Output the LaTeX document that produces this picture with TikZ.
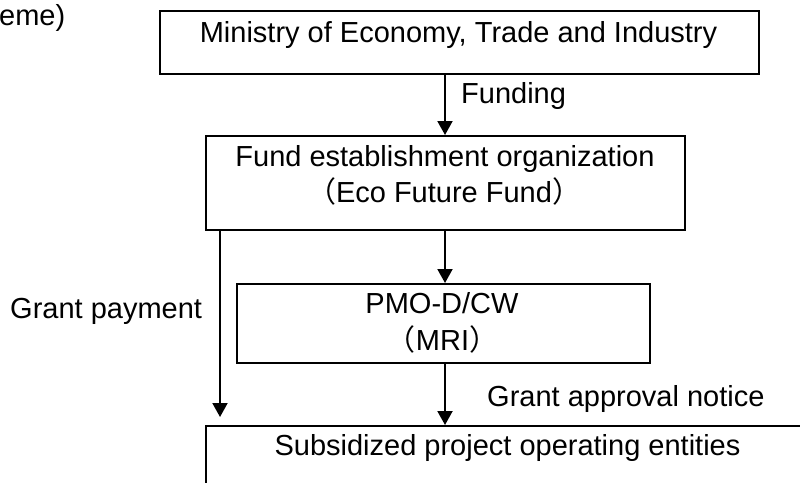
\documentclass[tikz,border=0pt]{standalone}
\usepackage{fontspec}
\setmainfont{Liberation Sans}
\newfontfamily\cjk{Noto Sans CJK JP}
\usetikzlibrary{arrows.meta}
\begin{document}
\begin{tikzpicture}[x=1pt,y=-1pt,
  box/.style={draw,line width=1.5pt,inner sep=0pt,anchor=north west},
  txt/.style={inner sep=0pt,anchor=base,font=\fontsize{29}{35}\selectfont},
  ltxt/.style={txt,anchor=base west},
  arr/.style={line width=2pt,-{Triangle[length=14pt,width=15pt]}}]
\useasboundingbox (0,0) rectangle (800,482);
\clip (0,0) rectangle (800,482);
% boxes
\node[box,minimum width=599pt,minimum height=63pt] (min) at (159,10) {};
\node[box,minimum width=479pt,minimum height=94pt] (fund) at (205,135) {};
\node[box,minimum width=413pt,minimum height=79pt] (pmo) at (236,283) {};
\node[box,minimum width=640pt,minimum height=100pt] (sub) at (205,425) {};
% texts
\node[txt] (tmin) at (458.5,42) {Ministry of Economy, Trade and Industry};
\node[txt] (tfund1) at (445,166) {Fund establishment organization};
\node[txt] (tfund2) at (444,202) {{\cjk （}Eco Future Fund{\cjk ）}};
\node[txt] (tpmo1) at (442,313) {PMO-D/CW};
\node[txt] (tpmo2) at (442.5,350) {{\cjk （}MRI{\cjk ）}};
\node[txt] (tsub) at (507.5,455) {Subsidized project operating entities};
\node[ltxt] (lfund) at (461,103) {Funding};
\node[ltxt] (lappr) at (487,406) {Grant approval notice};
\node[ltxt] (lpay) at (10,318) {Grant payment};
\node[ltxt] (scheme) at (-1,25) {eme)};
% connector columns
\coordinate (cx) at (445,0);
\coordinate (lx) at (220,0);
\draw[arr] (min.south -| cx) -- (fund.north -| cx);
\draw[arr] (fund.south -| cx) -- (pmo.north -| cx);
\draw[arr] (pmo.south -| cx) -- (sub.north -| cx);
\draw[arr] (fund.south -| lx) -- ([yshift=8pt]sub.north -| lx);
\end{tikzpicture}
\end{document}
